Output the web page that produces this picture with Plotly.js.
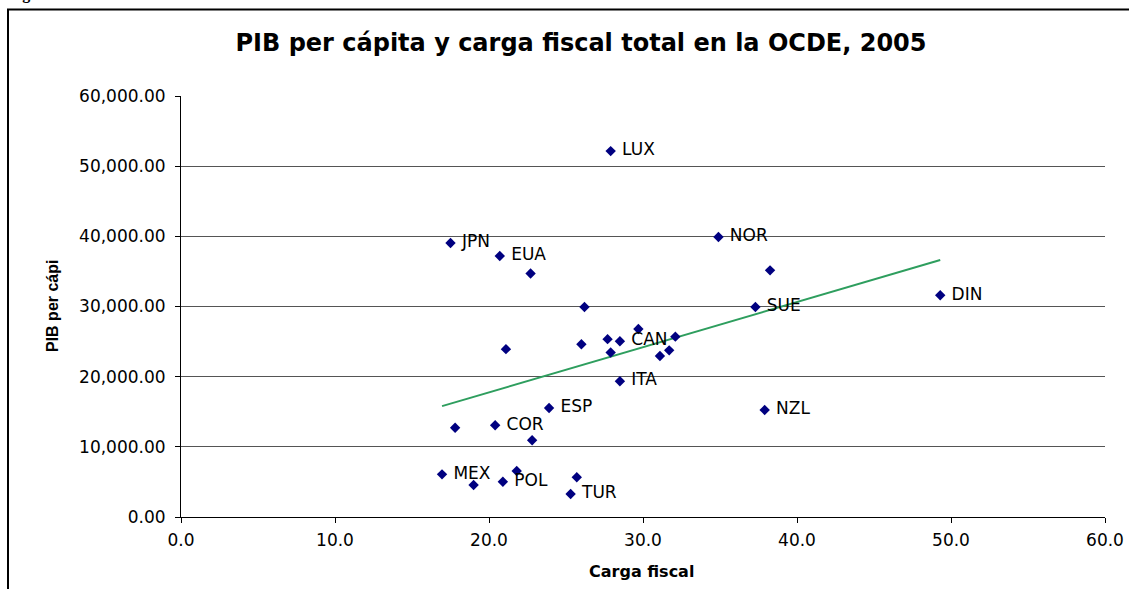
<!DOCTYPE html>
<html>
<head>
<meta charset="utf-8">
<script src="https://cdn.plot.ly/plotly-3.0.1.min.js"></script>
<style>html,body{margin:0;padding:0;background:#fff;}#chart{width:1129px;height:589px;}</style>
</head>
<body>
<div id="chart"></div>
<script>
// Carga fiscal (% del PIB), OCDE 2005
const cargaFiscal = [27.9, 17.5, 20.7, 22.7, 34.9, 38.25, 49.3, 37.3, 26.2, 29.7, 27.7, 28.5, 26.0, 21.1, 27.9, 31.1, 31.7, 32.1, 28.5, 23.9, 37.9, 20.4, 17.8, 22.8, 16.95, 19.0, 20.9, 21.8, 25.7, 25.3];
// PIB per cápita
const pibPerCapita = [52150, 39050, 37200, 34700, 39900, 35150, 31600, 29930, 29930, 26790, 25350, 25050, 24630, 23920, 23450, 22940, 23750, 25700, 19350, 15530, 15250, 13070, 12730, 10930, 6080, 4560, 5030, 6560, 5660, 3280];
// Etiquetas de país ('' = sin etiqueta)
const etiquetas = ['LUX', 'JPN', 'EUA', '', 'NOR', '', 'DIN', 'SUE', '', '', '', 'CAN', '', '', '', '', '', '', 'ITA', 'ESP', 'NZL', 'COR', '', '', 'MEX', '', 'POL', '', '', 'TUR'];
// Línea de tendencia lineal (extremos)
const tendenciaX = [16.95, 49.3];
const tendenciaY = [15800, 36620];

const xTicks = [0, 10, 20, 30, 40, 50, 60];
const yTicks = [0, 10000, 20000, 30000, 40000, 50000, 60000];

const fontBase = 'DejaVu Sans, Verdana, sans-serif';

const traces = [
  {
    x: tendenciaX, y: tendenciaY, mode: 'lines', type: 'scatter',
    line: {color: '#2E9E5E', width: 2}, hoverinfo: 'skip', showlegend: false
  },
  {
    x: cargaFiscal, y: pibPerCapita,
    text: etiquetas.map(function (t) { return t ? '\u00a0' + t : ''; }),
    mode: 'markers+text', type: 'scatter',
    textposition: 'middle right',
    textfont: {family: fontBase, size: 17, color: '#000'},
    marker: {symbol: 'diamond', size: 8, color: '#000080'},
    showlegend: false
  }
];

const layout = {
  width: 1129, height: 589,
  margin: {l: 181, r: 24, t: 96, b: 72, pad: 0},
  paper_bgcolor: '#fff', plot_bgcolor: '#fff',
  font: {family: fontBase, size: 17, color: '#000'},
  title: {
    text: '<b>PIB per cápita y carga fiscal total en la OCDE, 2005</b>',
    font: {family: fontBase, size: 24, color: '#000'},
    x: 581 / 1129, xanchor: 'center', xref: 'container',
    y: 1 - 43 / 589, yanchor: 'middle', yref: 'container'
  },
  xaxis: {
    range: [0, 60], tickvals: xTicks, tickformat: '.1f',
    showgrid: false, zeroline: false,
    showline: true, linecolor: '#000', linewidth: 1,
    ticks: 'outside', ticklen: 5, tickcolor: '#000',
    ticklabelstandoff: 3,
    tickfont: {family: fontBase, size: 17}
  },
  yaxis: {
    range: [0, 60000], tickvals: yTicks, tickformat: ',.2f',
    showgrid: true, gridcolor: '#555', gridwidth: 1, zeroline: false,
    showline: true, linecolor: '#000', linewidth: 1,
    ticks: 'outside', ticklen: 5, tickcolor: '#000',
    ticklabelstandoff: 6,
    tickfont: {family: fontBase, size: 17}
  },
  shapes: [
    {type: 'rect', xref: 'paper', yref: 'paper',
     x0: (8 - 181) / 924, x1: (1140 - 181) / 924,
     y0: (517 - 600) / 421, y1: (517 - 9.5) / 421,
     line: {color: '#000', width: 2}, fillcolor: 'rgba(0,0,0,0)', layer: 'below'}
  ],
  annotations: [
    {text: '<b>Carga fiscal</b>', xref: 'paper', yref: 'paper',
     x: (641 - 181) / 924, y: (517 - 571) / 421, xanchor: 'center', yanchor: 'middle',
     showarrow: false, font: {family: fontBase, size: 16, color: '#000'}},
    {text: '<b>PIB per cápi</b>', xref: 'paper', yref: 'paper', textangle: -90,
     x: (52 - 181) / 924, y: (517 - 306) / 421, xanchor: 'center', yanchor: 'middle',
     showarrow: false, font: {family: 'Liberation Sans Narrow, Liberation Sans, Arial, sans-serif', size: 16, color: '#000'}},
    {text: '<b>Figura</b>', xref: 'paper', yref: 'paper',
     x: (6 - 181) / 924, y: (517 - 5) / 421, xanchor: 'left', yanchor: 'bottom',
     showarrow: false, font: {family: 'Liberation Serif, Times New Roman, serif', size: 16, color: '#000'}}
  ]
};

Plotly.newPlot('chart', traces, layout, {displayModeBar: false, staticPlot: true});
</script>
</body>
</html>
